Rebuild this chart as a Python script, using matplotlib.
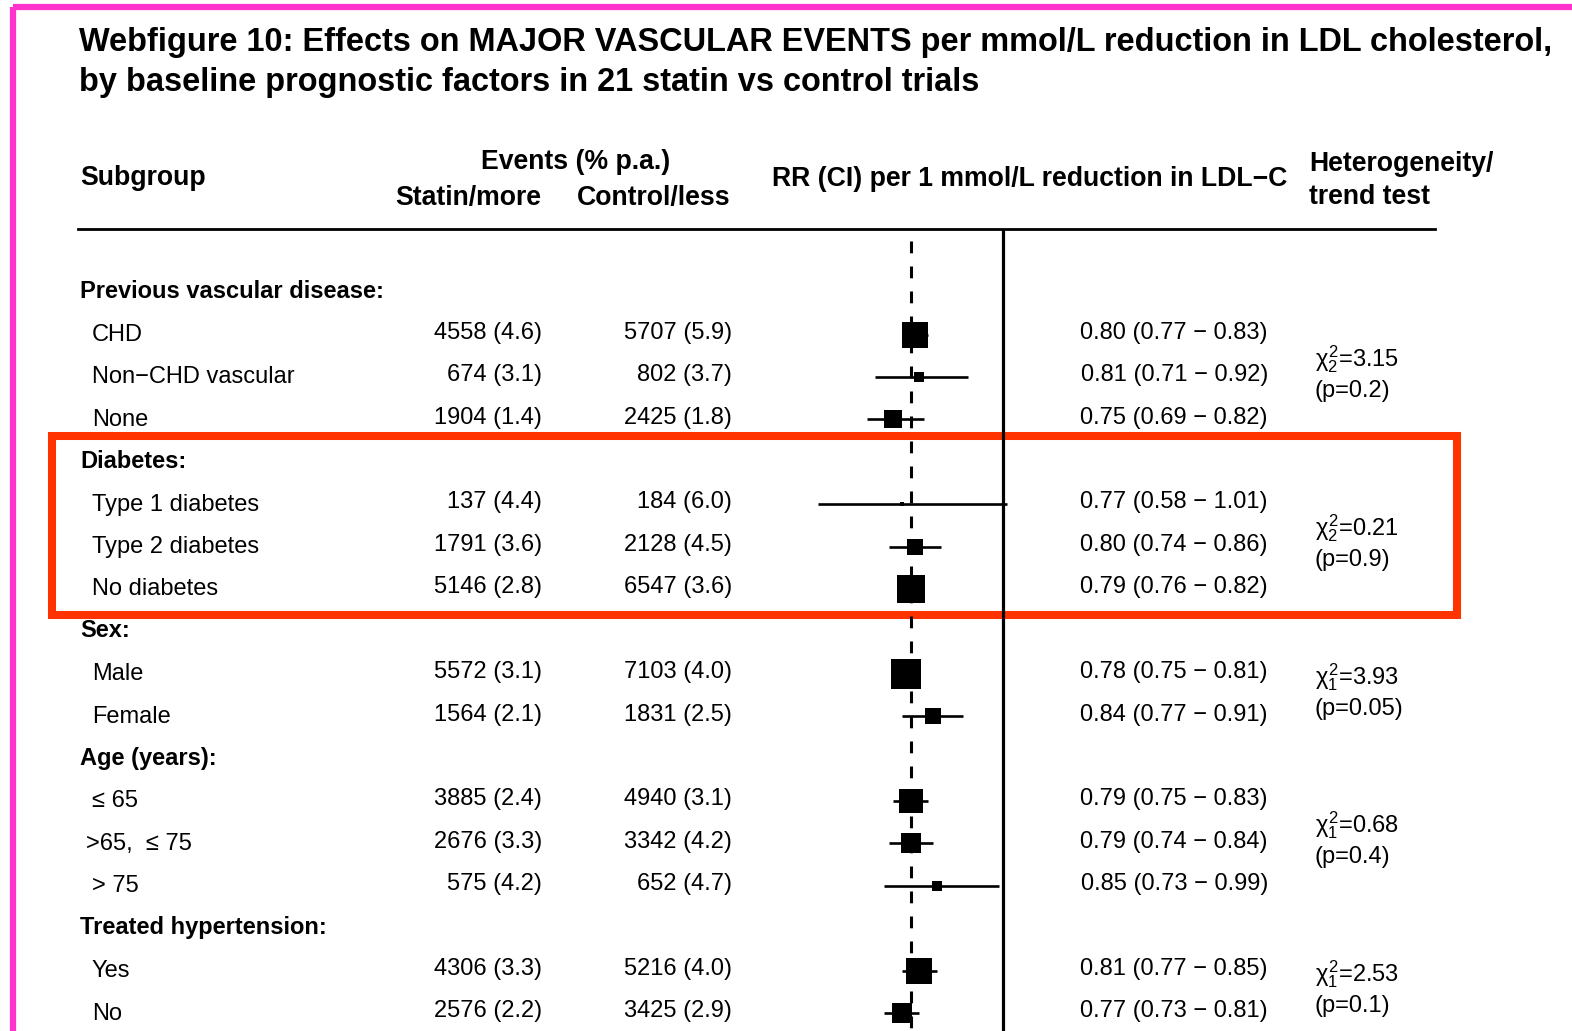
import numpy as np
import matplotlib
matplotlib.use("Agg")
import matplotlib.pyplot as plt
from matplotlib.patches import Rectangle

plt.rcParams['font.family'] = ['Liberation Sans', 'DejaVu Sans']
plt.rcParams['mathtext.fontset'] = 'custom'
plt.rcParams['mathtext.rm'] = 'Liberation Sans'
plt.rcParams['mathtext.it'] = 'Liberation Sans'
plt.rcParams['mathtext.bf'] = 'Liberation Sans:bold'
plt.rcParams['lines.scale_dashes'] = False

# ---------------- data ----------------
title_lines = ["Webfigure 10: Effects on MAJOR VASCULAR EVENTS per mmol/L reduction in LDL cholesterol,",
               "by baseline prognostic factors in 21 statin vs control trials"]
group_titles = ["Previous vascular disease:", "Diabetes:", "Sex:", "Age (years):",
                "Treated hypertension:"]
group_sizes = [3, 3, 2, 3, 2]
labels = ["CHD", "Non\u2212CHD vascular", "None",
          "Type 1 diabetes", "Type 2 diabetes", "No diabetes",
          "Male", "Female",
          "\u2264 65", ">65,  \u2264 75", "> 75",
          "Yes", "No"]
statin_events = [4558, 674, 1904, 137, 1791, 5146, 5572, 1564, 3885, 2676, 575, 4306, 2576]
statin_rate = [4.6, 3.1, 1.4, 4.4, 3.6, 2.8, 3.1, 2.1, 2.4, 3.3, 4.2, 3.3, 2.2]
control_events = [5707, 802, 2425, 184, 2128, 6547, 7103, 1831, 4940, 3342, 652, 5216, 3425]
control_rate = [5.9, 3.7, 1.8, 6.0, 4.5, 3.6, 4.0, 2.5, 3.1, 4.2, 4.7, 4.0, 2.9]
rr = [0.80, 0.81, 0.75, 0.77, 0.80, 0.79, 0.78, 0.84, 0.79, 0.79, 0.85, 0.81, 0.77]
ci_lo = [0.77, 0.71, 0.69, 0.58, 0.74, 0.76, 0.75, 0.77, 0.75, 0.74, 0.73, 0.77, 0.73]
ci_hi = [0.83, 0.92, 0.82, 1.01, 0.86, 0.82, 0.81, 0.91, 0.83, 0.84, 0.99, 0.85, 0.81]
het_df = [2, 2, 1, 1, 1]
het_chi = ["3.15", "0.21", "3.93", "0.68", "2.53"]
het_p = ["0.2", "0.9", "0.05", "0.4", "0.1"]
overall_rr = 0.79

# ---------------- layout ----------------
W, H, DPI = 1572, 1031, 100
fig = plt.figure(figsize=(W / DPI, H / DPI), dpi=DPI)
fig.patch.set_facecolor('white')

ROW0, ROWH = 290.0, 42.41          # pixel y of first row, row spacing
def row_of(px):
    return (px - ROW0) / ROWH
ylim = (row_of(H), row_of(0))

# layout axes in pixels
lay = fig.add_axes([0, 0, 1, 1])
lay.set_xlim(0, W); lay.set_ylim(H, 0); lay.axis('off')

# rows axes: x in px, y in row units
tab = fig.add_axes([0, 0, 1, 1], facecolor='none')
tab.set_xlim(0, W); tab.set_ylim(*ylim); tab.axis('off')

# forest axes: x in RR (linear), y in row units
X1, PXU = 1003.0, 440.0            # pixel of RR=1, pixels per RR unit
fa = fig.add_axes([0, 0, 1, 1], facecolor='none')
fa.set_xlim(1 + (0 - X1) / PXU, 1 + (W - X1) / PXU); fa.set_ylim(*ylim); fa.axis('off')

FS = 17
# borders
lay.plot([13, 13], [7, H], color='#FF33CC', lw=4.5, solid_capstyle='butt')
lay.plot([13, W], [7, 7], color='#FF33CC', lw=4.5, solid_capstyle='butt')

# titles
TFS = 23.45
lay.text(79, 42, title_lines[0], fontsize=TFS, fontweight='bold', va='center', ha='left')
lay.text(79, 82, title_lines[1], fontsize=TFS, fontweight='bold', va='center', ha='left')

# column headers
HFS = 19.2
lay.text(80, 178, "Subgroup", fontsize=HFS, fontweight='bold', va='center')
lay.text(576, 162, "Events (% p.a.)", fontsize=HFS, fontweight='bold', va='center', ha='center')
lay.text(541, 198, "Statin/more", fontsize=HFS, fontweight='bold', va='center', ha='right')
lay.text(730, 198, "Control/less", fontsize=HFS, fontweight='bold', va='center', ha='right')
lay.text(1030, 179, "RR (CI) per 1 mmol/L reduction in LDL\u2212C", fontsize=HFS,
         fontweight='bold', va='center', ha='center')
lay.text(1309, 164, "Heterogeneity/", fontsize=HFS, fontweight='bold', va='center')
lay.text(1309, 197, "trend test", fontsize=HFS, fontweight='bold', va='center')
lay.plot([78, 1435], [229, 229], color='black', lw=2.0)

# red highlight box
lay.add_patch(Rectangle((52, 435.5), 1456.7 - 52, 614.5 - 435.5, fill=False,
                        edgecolor='#FF3300', lw=5.8, zorder=5))

# reference lines
fa.plot([1.0, 1.0], [row_of(229), ylim[0]], color='black', lw=2.3, solid_capstyle='butt')
fa.plot([overall_rr, overall_rr], [row_of(241), ylim[0]], color='black', lw=2.2,
        dashes=(8.5, 9.5))

# rows
r = 0
i = 0
for g, (gt, n) in enumerate(zip(group_titles, group_sizes)):
    tab.text(80, r + 0.04, gt, fontsize=FS, fontweight='bold', va='center', ha='left')
    first = r + 1
    for k in range(n):
        r += 1
        lx = 86 if labels[i].startswith(">65") else 92
        tab.text(lx, r + 0.06, labels[i], fontsize=FS, va='center', ha='left')
        tab.text(542, r + 0.01, f"{statin_events[i]} ({statin_rate[i]:.1f})", fontsize=FS,
                 va='center', ha='right')
        tab.text(732, r + 0.01, f"{control_events[i]} ({control_rate[i]:.1f})", fontsize=FS,
                 va='center', ha='right')
        tab.text(1268, r + 0.01, f"{rr[i]:.2f} ({ci_lo[i]:.2f} \u2212 {ci_hi[i]:.2f})", fontsize=FS,
                 va='center', ha='right')
        fa.plot([ci_lo[i], ci_hi[i]], [r + 0.05, r + 0.05], color='black', lw=1.9,
                solid_capstyle='butt', zorder=3)
        side_px = 0.26 * np.sqrt(statin_events[i] + control_events[i])
        fa.plot([rr[i]], [r + 0.05], marker='s', color='black', markeredgewidth=0,
                markersize=side_px * 72 / DPI, zorder=4)
        i += 1
    mid = (first + r) / 2.0
    tab.text(1315, mid - 16 / ROWH, rf"$\chi^2_{{{het_df[g]}}}$=" + het_chi[g], fontsize=FS,
             va='center', ha='left')
    tab.text(1315, mid + 16 / ROWH, f"(p={het_p[g]})", fontsize=FS, va='center', ha='left')
    r += 1

fig.savefig("out.png", dpi=DPI, facecolor='white')
